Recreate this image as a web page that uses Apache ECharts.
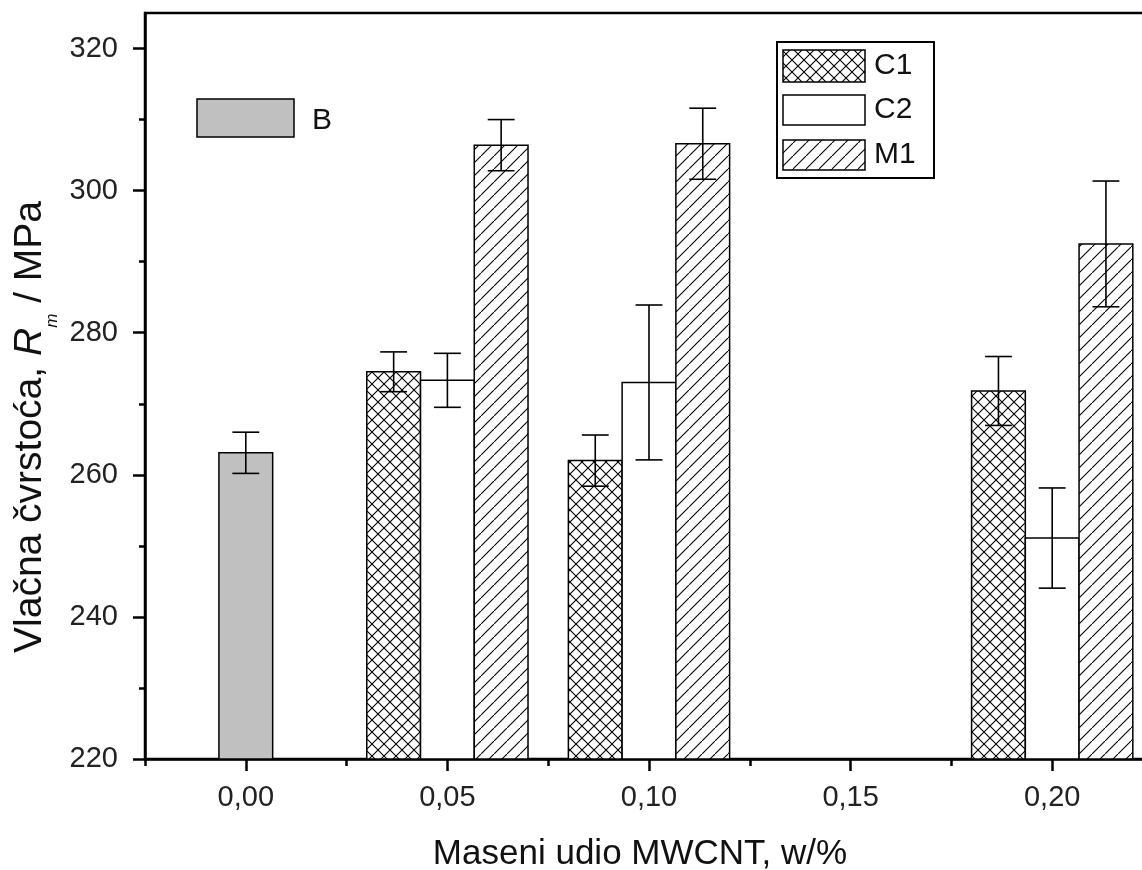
<!DOCTYPE html>
<html>
<head>
<meta charset="utf-8">
<script src="https://cdn.jsdelivr.net/npm/echarts@6/dist/echarts.min.js"></script>
<style>
html,body{margin:0;padding:0;background:#fff;}
#chart{width:1142px;height:870px;}
</style>
</head>
<body>
<div id="chart"></div>
<script>
// ---- data ----
const xMajorTicks = [0, 0.05, 0.10, 0.15, 0.20];
const xMinorTicks = [-0.025, 0.025, 0.075, 0.125, 0.175];
const yMajorTicks = [220, 240, 260, 280, 300, 320];
const yMinorTicks = [230, 250, 270, 290, 310];

const bX = [0.00];
const bVal = [263.1];
const bErr = [2.9];

const cX = [0.05, 0.10, 0.20];
const c1Val = [274.5, 262.0, 271.8];
const c1Err = [2.8, 3.6, 4.85];
const c2Val = [273.3, 273.0, 251.1];
const c2Err = [3.8, 10.9, 7.05];
const m1Val = [306.4, 306.6, 292.5];
const m1Err = [3.6, 5.0, 8.85];

const seriesNames = ['B', 'C1', 'C2', 'M1'];
const xTitle = 'Maseni udio MWCNT, w/%';
const yTitle = '{a|Vlačna čvrstoća, }{i|R}{s|m}{a| / MPa}';

// ---- styling helpers ----
const X_MIN = -0.025, X_MAX = 0.225, Y_MIN = 220, Y_MAX = 325;
const barW = 0.01333;
const FONT = '"Liberation Sans", Arial, sans-serif';

function hatchTile(size, cross) {
  const c = document.createElement('canvas');
  c.width = size; c.height = size;
  const g = c.getContext('2d');
  g.fillStyle = '#fff';
  g.fillRect(0, 0, size, size);
  g.strokeStyle = '#000';
  g.lineWidth = 1.1;
  g.beginPath();
  g.moveTo(-1, size + 1); g.lineTo(size + 1, -1);
  if (cross) { g.moveTo(-1, -1); g.lineTo(size + 1, size + 1); }
  g.stroke();
  return c;
}
const crossFill = { image: hatchTile(12, true), repeat: 'repeat' };
const diagFill = { image: hatchTile(13, false), repeat: 'repeat' };
const grayFill = '#c0c0c0';
const whiteFill = '#ffffff';

function barRender(off, fill) {
  return function (params, api) {
    const cx = api.value(0) + off * barW;
    const v = api.value(1);
    const p0 = api.coord([cx - barW / 2, v]);
    const p1 = api.coord([cx + barW / 2, Y_MIN]);
    return {
      type: 'rect',
      shape: { x: p0[0], y: p0[1], width: p1[0] - p0[0], height: p1[1] - p0[1] },
      style: { fill: fill, stroke: '#000', lineWidth: 1.5 }
    };
  };
}
function errRender(off) {
  return function (params, api) {
    const cx = api.value(0) + off * barW;
    const v = api.value(1), e = api.value(2);
    const t = api.coord([cx, v + e]);
    const b = api.coord([cx, v - e]);
    const half = api.coord([cx + barW / 4, v])[0] - t[0];
    const st = { stroke: '#000', lineWidth: 1.6 };
    return {
      type: 'group',
      children: [
        { type: 'line', shape: { x1: t[0], y1: t[1], x2: b[0], y2: b[1] }, style: st },
        { type: 'line', shape: { x1: t[0] - half, y1: t[1], x2: t[0] + half, y2: t[1] }, style: st },
        { type: 'line', shape: { x1: b[0] - half, y1: b[1], x2: b[0] + half, y2: b[1] }, style: st }
      ]
    };
  };
}
function rows(xs, vals, errs) { return xs.map((x, i) => [x, vals[i], errs[i]]); }

const groups = [
  { name: seriesNames[0], data: rows(bX, bVal, bErr), off: 0, fill: grayFill },
  { name: seriesNames[1], data: rows(cX, c1Val, c1Err), off: -1, fill: crossFill },
  { name: seriesNames[2], data: rows(cX, c2Val, c2Err), off: 0, fill: whiteFill },
  { name: seriesNames[3], data: rows(cX, m1Val, m1Err), off: 1, fill: diagFill }
];

const series = [];
groups.forEach(g => {
  series.push({ type: 'custom', name: g.name, xAxisIndex: 0, yAxisIndex: 0, data: g.data,
    renderItem: barRender(g.off, g.fill), encode: { x: 0, y: 1 }, z: 2, silent: true });
});
groups.forEach(g => {
  series.push({ type: 'custom', name: g.name + ' err', xAxisIndex: 0, yAxisIndex: 0, data: g.data,
    renderItem: errRender(g.off), encode: { x: 0, y: [1] }, z: 5, silent: true });
});

const gridPos = { left: 145, top: 13, right: -11, bottom: 111 };
const fmtX = v => v.toFixed(2).replace('.', ',');
const axisLineStyle = { color: '#000', width: 2.5 };

const option = {
  animation: false,
  backgroundColor: '#fff',
  grid: [
    Object.assign({ show: true, borderColor: '#000', borderWidth: 2.5, backgroundColor: 'transparent', containLabel: false, outerBoundsMode: 'none' }, gridPos),
    Object.assign({ show: false, containLabel: false, outerBoundsMode: 'none' }, gridPos)
  ],
  xAxis: [
    {
      gridIndex: 0, type: 'value', min: X_MIN, max: X_MAX,
      axisLine: { show: true, onZero: false, lineStyle: axisLineStyle },
      axisTick: { show: true, customValues: xMajorTicks, length: 12, lineStyle: axisLineStyle },
      axisLabel: { customValues: xMajorTicks, formatter: fmtX, fontSize: 29, color: '#222', margin: 24, fontFamily: FONT },
      splitLine: { show: false },
      name: xTitle, nameLocation: 'middle', nameGap: 78,
      nameTextStyle: { fontSize: 35, color: '#111', fontFamily: FONT, padding: [0, 18, 0, 0] }
    },
    {
      gridIndex: 1, type: 'value', min: X_MIN, max: X_MAX, position: 'bottom',
      axisLine: { show: false, onZero: false },
      axisTick: { show: true, customValues: xMinorTicks, length: 7, lineStyle: axisLineStyle },
      axisLabel: { show: false }, splitLine: { show: false }
    }
  ],
  yAxis: [
    {
      gridIndex: 0, type: 'value', min: Y_MIN, max: Y_MAX,
      axisLine: { show: true, onZero: false, lineStyle: axisLineStyle },
      axisTick: { show: true, customValues: yMajorTicks, length: 12, lineStyle: axisLineStyle },
      axisLabel: { customValues: yMajorTicks, fontSize: 29, color: '#222', margin: 27, fontFamily: FONT },
      splitLine: { show: false }
    },
    {
      gridIndex: 1, type: 'value', min: Y_MIN, max: Y_MAX, position: 'left',
      axisLine: { show: false, onZero: false },
      axisTick: { show: true, customValues: yMinorTicks, length: 6, lineStyle: axisLineStyle },
      axisLabel: { show: false }, splitLine: { show: false }
    }
  ],
  graphic: [
    // y axis title
    {
      type: 'text', x: 30, y: 427, rotation: Math.PI / 2, z: 10,
      style: {
        text: yTitle, align: 'center', verticalAlign: 'middle',
        fontSize: 39, fontFamily: FONT, fill: '#111',
        rich: {
          a: { fontSize: 39, lineHeight: 62, fill: '#111', fontFamily: FONT },
          i: { fontSize: 39, lineHeight: 62, fontStyle: 'italic', fill: '#111', fontFamily: FONT },
          s: { fontSize: 17, lineHeight: 17, fontStyle: 'italic', verticalAlign: 'bottom', fill: '#111', fontFamily: FONT }
        }
      }
    },
    // B legend
    { type: 'rect', shape: { x: 197, y: 99, width: 97, height: 38 }, style: { fill: grayFill, stroke: '#000', lineWidth: 1.5 }, z: 10 },
    { type: 'text', x: 312, y: 121, style: { text: seriesNames[0], font: '30px ' + FONT, fill: '#111', verticalAlign: 'middle' }, z: 10 },
    // C1/C2/M1 legend frame
    { type: 'rect', shape: { x: 777, y: 42, width: 157, height: 136 }, style: { fill: '#fff', stroke: '#000', lineWidth: 2 }, z: 10 },
    { type: 'rect', shape: { x: 783, y: 50, width: 82, height: 32 }, style: { fill: crossFill, stroke: '#000', lineWidth: 1.5 }, z: 11 },
    { type: 'rect', shape: { x: 783, y: 95, width: 82, height: 30 }, style: { fill: whiteFill, stroke: '#000', lineWidth: 1.5 }, z: 11 },
    { type: 'rect', shape: { x: 783, y: 140, width: 82, height: 30 }, style: { fill: diagFill, stroke: '#000', lineWidth: 1.5 }, z: 11 },
    { type: 'text', x: 874, y: 66, style: { text: seriesNames[1], font: '30px ' + FONT, fill: '#111', verticalAlign: 'middle' }, z: 11 },
    { type: 'text', x: 874, y: 110, style: { text: seriesNames[2], font: '30px ' + FONT, fill: '#111', verticalAlign: 'middle' }, z: 11 },
    { type: 'text', x: 874, y: 155, style: { text: seriesNames[3], font: '30px ' + FONT, fill: '#111', verticalAlign: 'middle' }, z: 11 }
  ],
  series: series
};

const chart = echarts.init(document.getElementById('chart'), null, { renderer: 'canvas', width: 1142, height: 870 });
chart.setOption(option);
</script>
</body>
</html>
